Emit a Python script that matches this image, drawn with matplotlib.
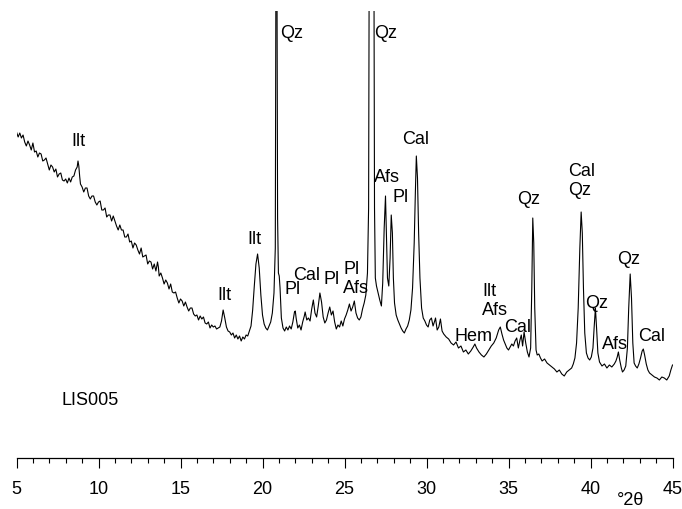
from matplotlib import pyplot as plt
from matplotlib.ticker import MultipleLocator

plt.rcParams['font.family'] = ['Liberation Sans', 'DejaVu Sans']

# XRD pattern of sample LIS005 (2theta in degrees, intensity in arbitrary units)
two_theta = [
    5.0, 5.1, 5.2, 5.3, 5.4, 5.5, 5.6, 5.7, 5.8, 5.9, 6.0, 6.1, 6.2, 6.3, 6.4, 6.5, 6.6, 6.7, 6.8, 6.9,
    7.0, 7.1, 7.2, 7.3, 7.4, 7.5, 7.6, 7.7, 7.8, 7.9, 8.0, 8.1, 8.2, 8.3, 8.4, 8.5, 8.6, 8.7, 8.75, 8.8,
    8.85, 8.9, 9.0, 9.1, 9.2, 9.3, 9.4, 9.5, 9.6, 9.7, 9.8, 9.9, 10.0, 10.1, 10.2, 10.3, 10.4, 10.5, 10.6,
    10.7, 10.8, 10.9, 11.0, 11.1, 11.2, 11.3, 11.4, 11.5, 11.6, 11.7, 11.8, 11.9, 12.0, 12.1, 12.2, 12.3,
    12.4, 12.5, 12.6, 12.7, 12.8, 12.9, 13.0, 13.1, 13.2, 13.3, 13.4, 13.5, 13.6, 13.65, 13.7, 13.8, 13.9,
    14.0, 14.1, 14.2, 14.3, 14.4, 14.5, 14.6, 14.7, 14.8, 14.9, 15.0, 15.1, 15.2, 15.3, 15.4, 15.5, 15.6,
    15.7, 15.8, 15.9, 16.0, 16.1, 16.2, 16.3, 16.4, 16.5, 16.6, 16.7, 16.8, 16.9, 17.0, 17.1, 17.2, 17.3,
    17.4, 17.5, 17.6, 17.7, 17.8, 17.9, 18.0, 18.1, 18.2, 18.3, 18.4, 18.5, 18.6, 18.7, 18.8, 18.9, 19.0,
    19.1, 19.2, 19.3, 19.4, 19.5, 19.6, 19.7, 19.8, 19.9, 20.0, 20.1, 20.2, 20.3, 20.4, 20.5, 20.6, 20.7,
    20.78, 20.82, 20.85, 20.88, 20.92, 20.97, 21.02, 21.07, 21.15, 21.25, 21.35, 21.45, 21.55, 21.65,
    21.75, 21.85, 21.95, 22.0, 22.05, 22.15, 22.25, 22.35, 22.45, 22.55, 22.6, 22.7, 22.8, 22.9, 23.0,
    23.1, 23.2, 23.3, 23.4, 23.5, 23.6, 23.7, 23.8, 23.9, 24.0, 24.1, 24.2, 24.3, 24.4, 24.5, 24.6, 24.7,
    24.8, 24.9, 25.0, 25.1, 25.2, 25.3, 25.4, 25.5, 25.6, 25.7, 25.8, 25.9, 26.0, 26.1, 26.2, 26.3, 26.4,
    26.47, 26.52, 26.65, 26.78, 26.83, 26.88, 26.95, 27.05, 27.15, 27.25, 27.33, 27.42, 27.5, 27.56,
    27.62, 27.7, 27.78, 27.85, 27.92, 27.98, 28.05, 28.15, 28.25, 28.35, 28.45, 28.55, 28.65, 28.75,
    28.85, 28.95, 29.05, 29.15, 29.25, 29.32, 29.38, 29.45, 29.52, 29.6, 29.7, 29.8, 29.9, 30.0, 30.1,
    30.2, 30.3, 30.4, 30.5, 30.55, 30.65, 30.75, 30.85, 30.95, 31.05, 31.2, 31.35, 31.5, 31.65, 31.8,
    31.95, 32.1, 32.25, 32.4, 32.55, 32.7, 32.85, 32.95, 33.05, 33.2, 33.35, 33.5, 33.65, 33.8, 33.95,
    34.1, 34.25, 34.4, 34.5, 34.6, 34.7, 34.8, 34.9, 35.0, 35.1, 35.2, 35.3, 35.4, 35.5, 35.6, 35.7,
    35.78, 35.86, 35.95, 36.05, 36.15, 36.25, 36.35, 36.42, 36.48, 36.54, 36.6, 36.68, 36.75, 36.85,
    36.95, 37.05, 37.2, 37.35, 37.5, 37.65, 37.8, 37.95, 38.1, 38.25, 38.4, 38.55, 38.7, 38.85, 38.95,
    39.05, 39.15, 39.25, 39.35, 39.43, 39.5, 39.57, 39.65, 39.75, 39.85, 39.95, 40.05, 40.15, 40.22,
    40.3, 40.37, 40.45, 40.55, 40.7, 40.85, 41.0, 41.15, 41.3, 41.45, 41.55, 41.63, 41.7, 41.78, 41.88,
    41.95, 42.05, 42.15, 42.25, 42.33, 42.42, 42.5, 42.58, 42.66, 42.75, 42.85, 42.95, 43.05, 43.15,
    43.22, 43.3, 43.4, 43.5, 43.6, 43.75, 43.9, 44.05, 44.2, 44.35, 44.5, 44.65, 44.8, 44.9, 45.0,
]
intensity = [
    326, 321, 325, 320, 323, 316, 312, 317, 313, 308, 315, 306, 307, 301, 305, 304, 297, 298, 300, 294,
    288, 293, 291, 286, 289, 281, 284, 285, 278, 277, 279, 275, 280, 276, 281, 282, 288, 291, 297, 292,
    282, 274, 271, 266, 270, 270, 262, 259, 262, 262, 256, 253, 256, 257, 248, 248, 250, 241, 243,
    243, 237, 242, 237, 232, 228, 233, 228, 228, 221, 221, 224, 216, 217, 210, 215, 213,
    208, 204, 210, 201, 202, 203, 194, 197, 196, 189, 194, 187, 196, 191, 182, 185, 180,
    174, 178, 175, 169, 174, 166, 165, 166, 160, 155, 159, 157, 152, 156, 151, 147, 150,
    150, 144, 142, 143, 138, 142, 139, 141, 135, 134, 136, 130, 133, 131, 132, 129, 130,
    131, 137, 148, 140, 131, 127, 126, 123, 125, 120, 123, 119, 122, 117, 121, 119, 123,
    122, 127, 132, 148, 172, 194, 204, 190, 163, 143, 134, 130, 128, 132, 136, 145, 165,
    210, 500, 900, 500, 240, 185, 182, 170, 140, 130, 127, 131, 128, 132,
    129, 136, 146, 147, 140, 130, 133, 128, 136, 142, 146, 138, 140, 137, 149,
    158, 145, 141, 152, 165, 156, 141, 135, 138, 145, 151, 143, 147, 136, 129, 133, 131,
    137, 132, 139, 143, 148, 154, 147, 151, 157, 145, 140, 138, 141, 149, 155, 163, 185,
    250, 600, 3000, 600, 250, 180, 172, 165, 158, 152, 175, 230, 262, 220,
    180, 172, 200, 243, 225, 180, 155, 143, 138, 134, 130, 127, 125, 129,
    132, 138, 148, 170, 215, 265, 302, 280, 225, 180, 150, 140, 137, 133, 131,
    138, 140, 132, 137, 140, 128, 131, 139, 127, 124, 121, 119, 115, 113, 116,
    110, 112, 106, 108, 104, 107, 111, 114, 110, 106, 103, 101, 104, 108, 112,
    115, 120, 128, 131, 124, 118, 114, 110, 108, 111, 114, 112, 117, 120, 110, 118,
    123, 112, 126, 115, 106, 101, 110, 170, 240, 215, 150, 108, 103, 104,
    100, 97, 99, 95, 93, 91, 89, 86, 88, 84, 82, 86, 88, 90, 94,
    100, 115, 150, 210, 246, 225, 170, 125, 105, 100, 98, 101, 110, 130,
    150, 130, 105, 96, 92, 94, 90, 93, 91, 94, 97, 101, 106, 98, 90,
    86, 88, 92, 110, 150, 184, 160, 115, 95, 92, 90, 94, 100, 107,
    109, 103, 94, 88, 85, 83, 81, 80, 78, 81, 80, 78, 82, 88, 93,
]

# phase labels (text, 2theta, intensity)
phase_labels = ['Ilt', 'Ilt', 'Ilt', 'Qz', 'Pl', 'Cal', 'Pl', 'Pl\nAfs', 'Qz', 'Afs', 'Pl', 'Cal',
                'Hem', 'Ilt\nAfs', 'Cal', 'Qz', 'Cal\nQz', 'Qz', 'Afs', 'Qz', 'Cal']
label_x = [8.78, 17.65, 19.48, 21.77, 21.83, 22.71, 24.21, 24.91, 27.53, 27.62, 28.41, 29.33,
           32.87, 33.4, 35.55, 36.22, 38.63, 40.4, 41.49, 42.35, 43.72]
label_y = [318, 163, 219, 426, 169, 183, 179, 180, 425, 282, 261, 319,
           122, 158, 132, 259, 278, 156, 114, 199, 122]

fig = plt.figure(figsize=(6.82, 5.10), dpi=100)
ax = fig.add_axes([16.5 / 682, 51 / 510, 656 / 682, 447 / 510])

ax.plot(two_theta, intensity, color='black', linewidth=0.8)
ax.set_xlim(5, 45)
ax.set_ylim(0, 447)

for txt, x, y in zip(phase_labels, label_x, label_y):
    if '\n' in txt:
        ax.text(x, y, txt, fontsize=13, ha='left', va='center', linespacing=1.2)
    else:
        ax.text(x, y, txt, fontsize=13, ha='center', va='center')

ax.text(9.48, 58, 'LIS005', fontsize=13, ha='center', va='center')
fig.text(631 / 682, 1 - 501 / 510, '°2θ', fontsize=13, ha='center', va='center')

# only the bottom axis is drawn
for s in ['top', 'left', 'right']:
    ax.spines[s].set_visible(False)
ax.spines['bottom'].set_linewidth(0.9)
ax.set_yticks([])
ax.xaxis.set_major_locator(MultipleLocator(5))
ax.xaxis.set_minor_locator(MultipleLocator(1))
ax.tick_params(axis='x', which='major', direction='out', length=7.2, width=0.8, labelsize=13, pad=9)
ax.tick_params(axis='x', which='minor', direction='out', length=3.6, width=0.8)

plt.savefig('out.png', format='png')
